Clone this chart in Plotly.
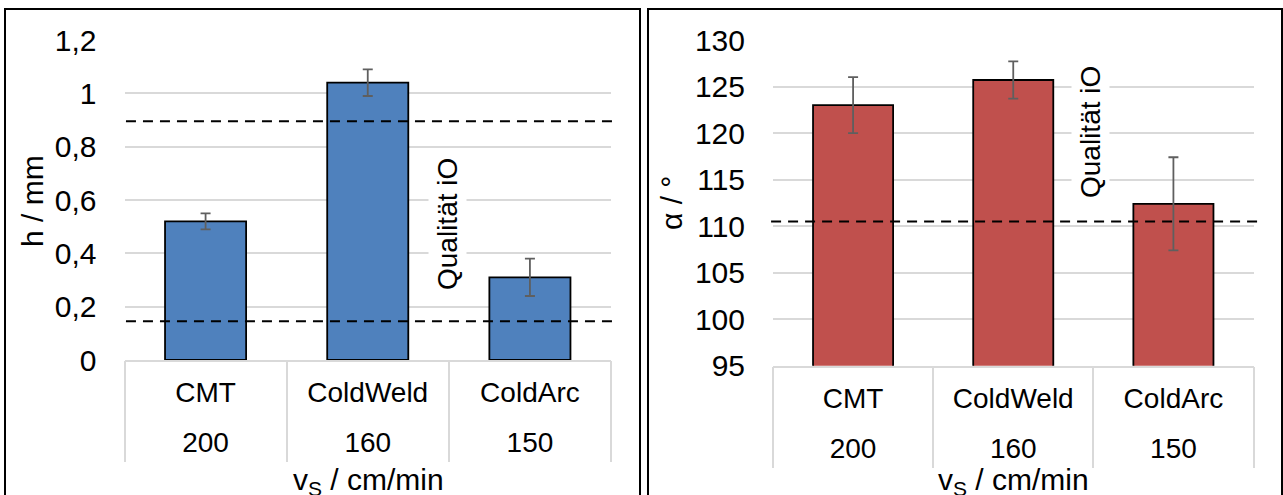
import plotly.graph_objects as go

processes = ["CMT", "ColdWeld", "ColdArc"]
speeds = ["200", "160", "150"]

h_values = [0.52, 1.04, 0.31]
h_errors = [0.03, 0.05, 0.07]
h_limits = [0.895, 0.145]

alpha_values = [123.0, 125.7, 112.4]
alpha_errors = [3.0, 2.0, 5.0]
alpha_limits = [110.5]

h_ticks = [0, 0.2, 0.4, 0.6, 0.8, 1.0, 1.2]
alpha_ticks = [95, 100, 105, 110, 115, 120, 125, 130]

FONT = "Arial, Liberation Sans, sans-serif"
W, H = 1283, 495
GRID = "#d9d9d9"


def px_x(p):
    return p / W


def px_y(p):
    return 1 - p / H


ncat = len(processes)
positions = list(range(ncat))
xrange_ = [-0.5, ncat - 0.5]

fig = go.Figure()
fig.add_trace(go.Bar(
    x=processes, y=h_values, width=0.5,
    marker=dict(color="#4F81BD", line=dict(color="black", width=1.8)),
    error_y=dict(type="data", array=h_errors, color="#5f5f5f", thickness=1.8, width=5),
    xaxis="x", yaxis="y", showlegend=False,
))
fig.add_trace(go.Bar(
    x=processes, y=alpha_values, width=0.5,
    marker=dict(color="#C0504D", line=dict(color="black", width=1.8)),
    error_y=dict(type="data", array=alpha_errors, color="#5f5f5f", thickness=1.8, width=5),
    xaxis="x2", yaxis="y2", showlegend=False,
))
# invisible helper traces so the overlaying label/divider axes get drawn
for xa, ya, vals in [("x3", "y", h_values), ("x5", "y", h_values),
                     ("x4", "y2", alpha_values), ("x6", "y2", alpha_values)]:
    fig.add_trace(go.Scatter(x=positions, y=vals, mode="markers", marker=dict(opacity=0),
                             hoverinfo="skip", showlegend=False, xaxis=xa, yaxis=ya))

cat_axis = dict(
    type="category", categoryorder="array", categoryarray=processes, range=xrange_,
    showgrid=False, zeroline=False, showline=True, linecolor=GRID, linewidth=1.5,
    tickfont=dict(family=FONT, size=28, color="black"), ticks="", automargin=False,
    ticklabelstandoff=7,
)
speed_axis = dict(
    type="linear", range=xrange_, tickmode="array", tickvals=positions, ticktext=speeds,
    showgrid=False, zeroline=False, showline=False,
    tickfont=dict(family=FONT, size=28, color="black"), ticks="", automargin=False,
    ticklabelstandoff=63,
)
divider_axis = dict(
    type="linear", range=xrange_, tickmode="array",
    tickvals=[i - 0.5 for i in range(ncat + 1)],
    showgrid=False, zeroline=False, showline=False, showticklabels=False,
    ticks="outside", ticklen=101, tickcolor=GRID, tickwidth=1.5, automargin=False,
)
yaxis_common = dict(
    showgrid=True, gridcolor=GRID, gridwidth=1.5, zeroline=False, showline=False,
    tickfont=dict(family=FONT, size=30, color="black"), ticks="", automargin=False,
    ticklabelstandoff=27,
)

dom_l = [px_x(124.5), px_x(611)]
dom_r = [px_x(773), px_x(1253.5)]

fig.update_layout(
    width=W, height=H,
    margin=dict(l=0, r=0, t=0, b=0),
    paper_bgcolor="white", plot_bgcolor="white",
    separators=", ",
    xaxis=dict(domain=dom_l, anchor="y", **cat_axis),
    xaxis3=dict(domain=dom_l, anchor="y", overlaying="x", **speed_axis),
    xaxis5=dict(domain=dom_l, anchor="y", overlaying="x", **divider_axis),
    yaxis=dict(domain=[px_y(360), px_y(40)], anchor="x", range=[0, 1.2],
               tickvals=h_ticks, **yaxis_common),
    xaxis2=dict(domain=dom_r, anchor="y2", **cat_axis),
    xaxis4=dict(domain=dom_r, anchor="y2", overlaying="x2", **speed_axis),
    xaxis6=dict(domain=dom_r, anchor="y2", overlaying="x2", **divider_axis),
    yaxis2=dict(domain=[px_y(365.7), px_y(40)], anchor="x2", range=[95, 130],
                tickvals=alpha_ticks, **yaxis_common),
)

shapes = []
for v in h_limits:
    shapes.append(dict(type="line", xref="x domain", yref="y", x0=0.003, x1=1.008, y0=v, y1=v,
                       line=dict(color="black", width=2, dash="10px,7px")))
for v in alpha_limits:
    shapes.append(dict(type="line", xref="x2 domain", yref="y2", x0=-0.004, x1=1.015, y0=v, y1=v,
                       line=dict(color="black", width=2, dash="10px,7px")))
shapes.append(dict(type="rect", xref="paper", yref="paper", x0=px_x(5), x1=px_x(640),
                   y0=-0.2, y1=px_y(9), line=dict(color="black", width=2)))
shapes.append(dict(type="rect", xref="paper", yref="paper", x0=px_x(648), x1=px_x(1282),
                   y0=-0.2, y1=px_y(9), line=dict(color="black", width=2)))
fig.update_layout(shapes=shapes)

annotations = [
    dict(text="Qualität iO", x=px_x(447), y=px_y(224), textangle=-90, bgcolor="white", borderpad=3),
    dict(text="Qualität iO", x=px_x(1091), y=px_y(132), textangle=-90, bgcolor="white", borderpad=3),
]
for a in annotations:
    a.update(xref="paper", yref="paper", showarrow=False, xanchor="center", yanchor="middle",
             font=dict(family=FONT, size=28, color="black"))

titles = [
    dict(text="h / mm", x=px_x(33), y=px_y(201), textangle=-90),
    dict(text="α / °", x=px_x(671), y=px_y(203), textangle=-90),
    dict(text="v<sub>S</sub> / cm/min", x=px_x(368), y=px_y(481), textangle=0),
    dict(text="v<sub>S</sub> / cm/min", x=px_x(1013), y=px_y(481), textangle=0),
]
for t in titles:
    t.update(xref="paper", yref="paper", showarrow=False, xanchor="center", yanchor="middle",
             font=dict(family=FONT, size=30, color="black"))
fig.update_layout(annotations=annotations + titles)

fig.write_html("out.html", config={"displayModeBar": False},
               post_script="document.body.style.margin='0px';")
